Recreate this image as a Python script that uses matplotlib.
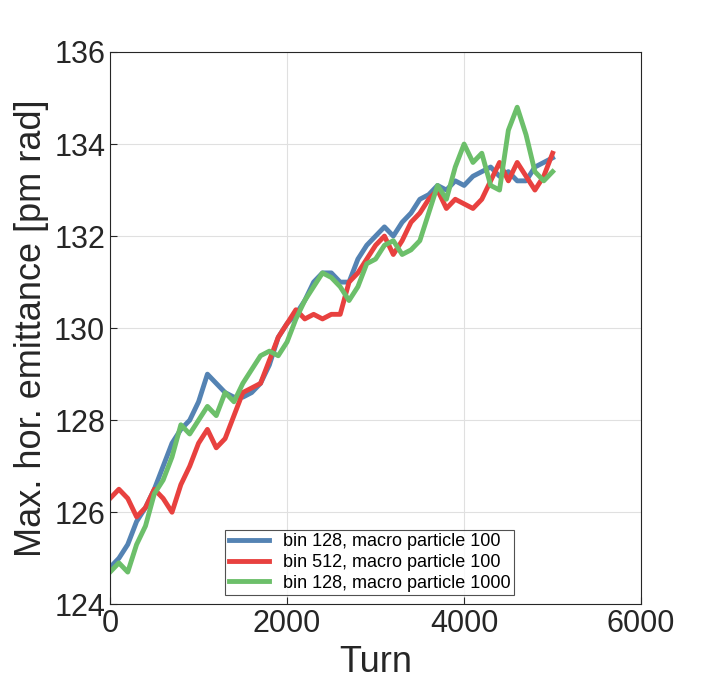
import matplotlib
matplotlib.use("Agg")
import matplotlib.pyplot as plt

turns = [0, 100, 200, 300, 400, 500, 600, 700, 800, 900, 1000, 1100, 1200, 1300, 1400,
         1500, 1600, 1700, 1800, 1900, 2000, 2100, 2200, 2300, 2400, 2500, 2600, 2700,
         2800, 2900, 3000, 3100, 3200, 3300, 3400, 3500, 3600, 3700, 3800, 3900, 4000,
         4100, 4200, 4300, 4400, 4500, 4600, 4700, 4800, 4900, 5000]

blue = [124.8, 125.0, 125.3, 125.8, 126.1, 126.5, 127.0, 127.5, 127.8, 128.0, 128.4,
        129.0, 128.8, 128.6, 128.5, 128.5, 128.6, 128.8, 129.2, 129.8, 130.1, 130.3,
        130.6, 131.0, 131.2, 131.2, 131.0, 131.0, 131.5, 131.8, 132.0, 132.2, 132.0,
        132.3, 132.5, 132.8, 132.9, 133.1, 133.0, 133.2, 133.1, 133.3, 133.4, 133.5,
        133.3, 133.4, 133.2, 133.2, 133.5, 133.6, 133.7]

red = [126.3, 126.5, 126.3, 125.9, 126.1, 126.5, 126.3, 126.0, 126.6, 127.0, 127.5,
       127.8, 127.4, 127.6, 128.1, 128.6, 128.7, 128.8, 129.3, 129.8, 130.1, 130.4,
       130.2, 130.3, 130.2, 130.3, 130.3, 131.0, 131.2, 131.5, 131.8, 132.0, 131.6,
       131.9, 132.3, 132.5, 132.8, 133.0, 132.6, 132.8, 132.7, 132.6, 132.8, 133.2,
       133.6, 133.2, 133.6, 133.3, 133.0, 133.3, 133.8]

green = [124.7, 124.9, 124.7, 125.3, 125.7, 126.4, 126.7, 127.2, 127.9, 127.7, 128.0,
         128.3, 128.1, 128.6, 128.4, 128.8, 129.1, 129.4, 129.5, 129.4, 129.7, 130.2,
         130.6, 130.9, 131.2, 131.1, 130.9, 130.6, 130.9, 131.4, 131.5, 131.8, 131.9,
         131.6, 131.7, 131.9, 132.5, 133.1, 132.8, 133.5, 134.0, 133.6, 133.8, 133.1,
         133.0, 134.3, 134.8, 134.2, 133.4, 133.2, 133.4]

labels = ["bin 128, macro particle 100", "bin 512, macro particle 100",
          "bin 128, macro particle 1000"]
colors = ["#5483b3", "#e8413f", "#6cbf6a"]

plt.rcParams["font.family"] = "Liberation Sans"
fig = plt.figure(figsize=(7.1, 6.93), dpi=100)
ax = fig.add_axes([0.155, 0.128, 0.748, 0.797])
for ys, lab, c in zip([blue, red, green], labels, colors):
    ax.plot(turns, ys, color=c, lw=3.5, label=lab)

ax.set_xlim(0, 6000)
ax.set_ylim(124, 136)
ax.set_xticks([0, 2000, 4000, 6000])
ax.set_yticks([124, 126, 128, 130, 132, 134, 136])
ax.tick_params(labelsize=22, direction="in", colors="#262626", length=5)
ax.set_xlabel("Turn", fontsize=26, color="#262626")
ax.set_ylabel("Max. hor. emittance [pm rad]", fontsize=26, color="#262626")
ax.grid(True, color="#e0e0e0", lw=0.8)
for s in ax.spines.values():
    s.set_color("#262626")
leg = ax.legend(loc="lower left", bbox_to_anchor=(0.2, 0.0), fontsize=13,
                frameon=True, fancybox=False, edgecolor="#262626",
                handlelength=2.2, borderpad=0.2, labelspacing=0.2)
leg.get_frame().set_linewidth(0.8)
fig.savefig("out.png", dpi=100, facecolor="white")
